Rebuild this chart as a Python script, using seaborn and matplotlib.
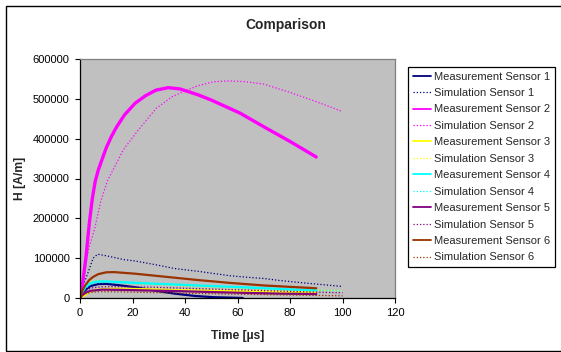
import matplotlib
matplotlib.use("Agg")
import matplotlib.pyplot as plt
from matplotlib.patches import Rectangle
import seaborn as sns
import pandas as pd

# ---------------- data ----------------
t_meas1 = [0, 1, 2, 4, 7, 10, 15, 21, 30, 36, 44, 51, 57, 62]
h_meas1 = [0, 12000, 20000, 30000, 35000, 35500, 32000, 27000, 17000, 11000, 5000, 2000, 1000, 0]
t_sim1 = [0, 1, 2.3, 3.5, 5, 6.7, 10, 17, 21, 30, 36, 45, 57, 62, 70, 76, 85, 90, 100]
h_sim1 = [0, 30000, 50000, 72000, 100000, 110000, 106000, 96000, 93000, 82000, 74000,
          67000, 56000, 53000, 49000, 44000, 38000, 35000, 29000]

t_meas2 = [0, 1, 2.3, 3.5, 4.7, 5.8, 7, 8.3, 10, 12, 14, 17, 21, 25, 29, 33.6,
           38, 45, 50, 57, 61, 70, 80, 90]
h_meas2 = [0, 37000, 104000, 185000, 250000, 293000, 322000, 346000, 377000, 406000,
           430000, 460000, 489000, 508000, 522000, 528000, 525000, 510000, 497000,
           476000, 464000, 430000, 393000, 354000]
t_sim2 = [0, 1, 2, 3.5, 5.5, 8, 10.5, 16.5, 22, 29, 35, 40, 45, 51, 57, 63, 70, 80, 90, 100]
h_sim2 = [0, 40000, 80000, 128000, 172000, 245000, 295000, 372000, 420000, 476000, 505000,
          520000, 533000, 543000, 545000, 543000, 537000, 516000, 493000, 468000]

t_meas3 = [0, 2, 3.2, 5, 8, 12, 20, 36, 50, 63, 75, 90]
h_meas3 = [0, 8000, 14600, 19000, 22000, 23000, 23000, 20000, 18500, 17000, 15500, 14000]
t_sim3 = [0, 1, 2, 4, 7, 10, 20, 40, 60, 80, 100]
h_sim3 = [0, 15000, 28000, 40000, 44000, 42000, 37000, 30000, 25000, 21000, 18500]

t_meas4 = [0, 1, 2, 4, 6, 8.3, 15, 21, 36, 50, 62, 70, 80, 90]
h_meas4 = [0, 15000, 27000, 37000, 41000, 42000, 40000, 38000, 34000, 30000, 27000, 24500, 21500, 19000]
t_sim4 = [0, 1, 2, 4, 6, 10, 20, 40, 60, 80, 100]
h_sim4 = [0, 12000, 24000, 34000, 38000, 39000, 37000, 31000, 26000, 21500, 18000]

t_meas5 = [0, 1, 2, 4, 8.3, 15, 25, 36, 50, 62, 76, 90]
h_meas5 = [0, 8000, 13000, 18000, 21000, 20500, 19000, 17500, 15000, 13000, 11000, 10000]
t_sim5 = [0, 1, 2, 4, 8, 15, 25, 40, 60, 80, 100]
h_sim5 = [0, 10000, 18000, 25000, 28000, 28500, 27500, 24500, 20500, 16500, 13000]

t_meas6 = [0, 1, 2, 3.5, 5, 7, 10, 13, 21, 30, 36, 45, 57, 62, 70, 80, 90]
h_meas6 = [0, 20000, 32000, 45000, 53000, 60000, 64500, 65000, 61000, 55000, 51000, 45000,
           38000, 35500, 31500, 28000, 24500]
t_sim6 = [0, 1, 2, 4, 8, 15, 25, 40, 60, 80, 100]
h_sim6 = [0, 6000, 10000, 14000, 16000, 15500, 14000, 12000, 9500, 7500, 5500]

series_names = ["Measurement Sensor 1", "Simulation Sensor 1",
                "Measurement Sensor 2", "Simulation Sensor 2",
                "Measurement Sensor 3", "Simulation Sensor 3",
                "Measurement Sensor 4", "Simulation Sensor 4",
                "Measurement Sensor 5", "Simulation Sensor 5",
                "Measurement Sensor 6", "Simulation Sensor 6"]
series_t = [t_meas1, t_sim1, t_meas2, t_sim2, t_meas3, t_sim3,
            t_meas4, t_sim4, t_meas5, t_sim5, t_meas6, t_sim6]
series_h = [h_meas1, h_sim1, h_meas2, h_sim2, h_meas3, h_sim3,
            h_meas4, h_sim4, h_meas5, h_sim5, h_meas6, h_sim6]

x_ticks = [0, 20, 40, 60, 80, 100, 120]
y_ticks = [0, 100000, 200000, 300000, 400000, 500000, 600000]

title = "Comparison"
x_label = "Time [µs]"
y_label = "H [A/m]"

# ---------------- styles ----------------
sensor_colors = ["#000080", "#FF00FF", "#FFFF00", "#00FFFF", "#800080", "#993300"]

sns.set_style("white")
plt.rcParams["font.family"] = ["Liberation Sans", "DejaVu Sans"]

fig = plt.figure(figsize=(5.61, 3.52), dpi=100)
fig.patch.set_facecolor("white")
ax = fig.add_axes([80 / 561, 1 - 298 / 352, 315 / 561, 239 / 352])
ax.set_facecolor("#C0C0C0")

rows = []
for name, ts, hs in zip(series_names, series_t, series_h):
    for t, h in zip(ts, hs):
        rows.append({"series": name, "t": t, "H": h})
df = pd.DataFrame(rows)

for i, name in enumerate(series_names):
    sub = df[df["series"] == name]
    color = sensor_colors[i // 2]
    is_meas = (i % 2 == 0)
    if is_meas:
        lw = 2.4 if i == 2 else 1.6
        ls = "-"
    else:
        lw = 0.9
        ls = (0, (1, 1.6))
    sns.lineplot(data=sub, x="t", y="H", ax=ax, color=color, linewidth=lw,
                 linestyle=ls, label=name, sort=False, estimator=None)

ax.set_xlim(0, 120)
ax.set_ylim(0, 600000)
ax.set_xticks(x_ticks)
ax.set_yticks(y_ticks)
ax.set_xticklabels([str(v) for v in x_ticks])
ax.set_yticklabels([str(v) for v in y_ticks])
ax.tick_params(axis="both", which="major", direction="out", length=3.5, width=0.8,
               labelsize=8, colors="black", pad=4,
               bottom=True, left=True, top=False, right=False)
for side in ["left", "bottom"]:
    ax.spines[side].set_color("black")
    ax.spines[side].set_linewidth(0.9)
for side in ["top", "right"]:
    ax.spines[side].set_color("#808080")
    ax.spines[side].set_linewidth(0.9)
ax.grid(False)

ax.set_xlabel(x_label, fontsize=8.7, fontweight="bold")
ax.set_ylabel(y_label, fontsize=8.7, fontweight="bold")
ax.xaxis.set_label_coords(0.5, (298 - 336) / 239)
ax.xaxis.label.set_va("center")
ax.yaxis.set_label_coords((20 - 80) / 315, 0.5)
ax.yaxis.label.set_va("center")

fig.text(286 / 561, 1 - 25 / 352, title, ha="center", va="center",
         fontsize=10, fontweight="bold")

leg = ax.legend(loc="upper left", bbox_to_anchor=(407.5 / 561, 1 - 66.5 / 352),
                bbox_transform=fig.transFigure, fontsize=8, frameon=True,
                fancybox=False, edgecolor="black", framealpha=1,
                borderpad=0.45, labelspacing=0.58, handlelength=1.65,
                handletextpad=0.3, borderaxespad=0)
leg.get_frame().set_linewidth(0.9)
for line in leg.get_lines():
    if line.get_linestyle() == "-":
        line.set_linewidth(1.3)

# outer chart border
fig.patches.append(Rectangle((6 / 561, 1 - 350.5 / 352), 0.999, (350.5 - 5.5) / 352,
                             transform=fig.transFigure, fill=False,
                             edgecolor="black", linewidth=1.0, clip_on=False))

fig.savefig("out.png", dpi=100)
